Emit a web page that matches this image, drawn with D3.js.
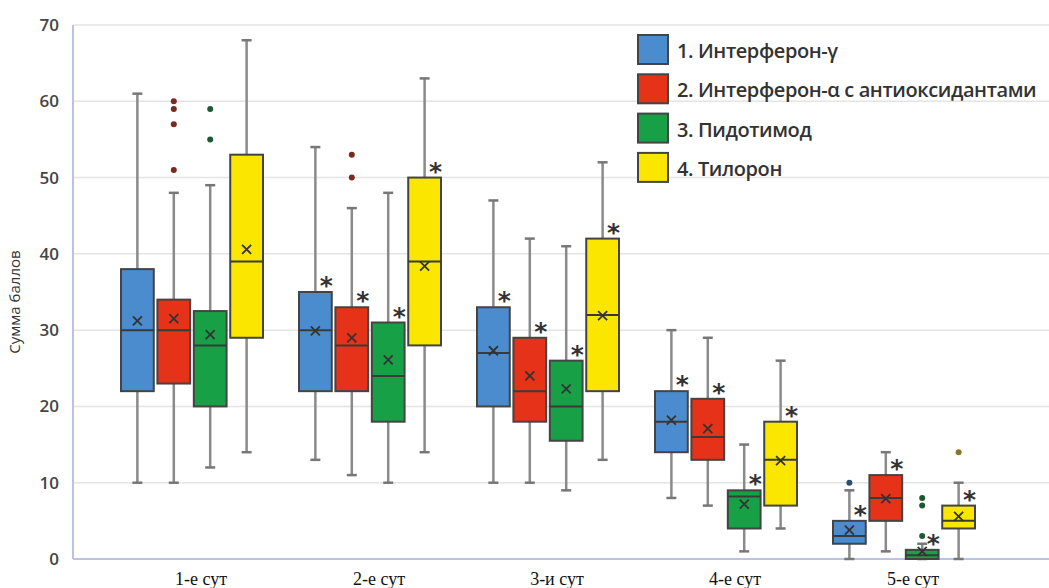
<!DOCTYPE html>
<html>
<head>
<meta charset="utf-8">
<script src="https://cdn.jsdelivr.net/npm/d3@7"></script>
<style>
body{margin:0;background:#fff;}
svg{display:block;}
</style>
</head>
<body>
<div id="chart"></div>
<script>
// data
const days = ["1-е сут", "2-е сут", "3-и сут", "4-е сут", "5-е сут"];
const seriesNames = ["1. Интерферон-γ", "2. Интерферон-α с антиоксидантами", "3. Пидотимод", "4. Тилорон"];
const colors = ["#4b8ccf", "#e63218", "#18a047", "#fbe600"];
const dotColors = ["#2b4f72", "#7b2a22", "#1d5a33", "#86762a"];
const yTicks = [0, 10, 20, 30, 40, 50, 60, 70];

const whiskerMin = [[10,13,10,8,0],[10,11,10,7,1],[12,10,9,1,0],[14,14,13,4,0]];
const q1 =         [[22,22,20,14,2],[23,22,18,13,5],[20,18,15.5,4,0],[29,28,22,7,4]];
const median =     [[30,30,27,18,3],[30,28,22,16,8],[28,24,20,8.2,0.5],[39,39,32,13,5]];
const q3 =         [[38,35,33,22,5],[34,33,29,21,11],[32.5,31,26,9,1.2],[53,50,42,18,7]];
const whiskerMax = [[61,54,47,30,9],[48,46,42,29,14],[49,48,41,15,2],[68,63,52,26,10]];
const means =      [[31.2,29.9,27.3,18.2,3.8],[31.5,29,24,17.1,7.9],[29.4,26.1,22.3,7.2,1],[40.6,38.4,31.9,12.9,5.6]];
const outliers = [
  [[],[],[],[],[10]],
  [[60,59,57,51],[53,50],[],[],[]],
  [[59,55],[],[],[],[8,7,3]],
  [[],[],[],[],[14]]
];
const significant = [[0,1,1,1,1],[0,1,1,1,1],[0,1,1,1,1],[0,1,1,1,1]];

const W = 1049, H = 588;
const plotLeft = 73, plotBottom = 559, plotTop = 25;

const svg = d3.select('#chart').append('svg')
  .attr('width', W).attr('height', H);

const y = d3.scaleLinear().domain([0, 70]).range([plotBottom, plotTop]);
const x = d3.scaleBand().domain(days).range([103, 993]).paddingInner(0).paddingOuter(0);
const xs = d3.scaleBand().domain(d3.range(4)).range([18, x.bandwidth() - 18]).paddingInner(0.1);

// grid
svg.append('g').selectAll('line')
  .data(yTicks.filter(d => d > 0))
  .enter().append('line')
  .attr('x1', plotLeft).attr('x2', W)
  .attr('y1', d => y(d)).attr('y2', d => y(d))
  .attr('stroke', '#e4e4e4').attr('stroke-width', 1.5);

// axes lines
svg.append('line').attr('x1', plotLeft).attr('x2', plotLeft).attr('y1', y(70)).attr('y2', plotBottom)
  .attr('stroke', '#b9c4e4').attr('stroke-width', 2);
svg.append('line').attr('x1', plotLeft).attr('x2', W).attr('y1', plotBottom).attr('y2', plotBottom)
  .attr('stroke', '#b9c4e4').attr('stroke-width', 2);

// y labels
const yAxis = d3.axisLeft(y).tickValues(yTicks).tickSize(0).tickPadding(14);
const ya = svg.append('g').attr('transform', `translate(${plotLeft},0)`).call(yAxis);
ya.select('.domain').remove();
ya.selectAll('text')
  .attr('font-family', 'Open Sans, sans-serif').attr('font-size', 17).attr('font-weight', 600)
  .attr('fill', '#444');

svg.append('text')
  .attr('transform', `translate(20,${(plotTop + plotBottom) / 2 + 10}) rotate(-90)`)
  .attr('text-anchor', 'middle')
  .attr('font-family', 'Open Sans, sans-serif').attr('font-size', 15)
  .attr('fill', '#333')
  .text('Сумма баллов');

// x labels
svg.append('g').selectAll('text')
  .data(days).enter().append('text')
  .attr('x', d => x(d) + x.bandwidth() / 2 + 9)
  .attr('y', 585)
  .attr('text-anchor', 'middle')
  .attr('font-family', 'Liberation Serif, serif').attr('font-size', 18)
  .attr('fill', '#111')
  .text(d => d);

// boxes
seriesNames.forEach((name, s) => {
  const g = svg.append('g');
  const bw = xs.bandwidth();
  const cx = i => x(days[i]) + xs(s) + bw / 2;
  const idx = d3.range(days.length);

  // whiskers
  g.selectAll(null).data(idx).enter().append('line')
    .attr('x1', i => cx(i)).attr('x2', i => cx(i))
    .attr('y1', i => y(whiskerMin[s][i])).attr('y2', i => y(whiskerMax[s][i]))
    .attr('stroke', '#8a8a8a').attr('stroke-width', 2.5);
  [whiskerMin, whiskerMax].forEach(arr => {
    g.selectAll(null).data(idx).enter().append('line')
      .attr('x1', i => cx(i) - 5).attr('x2', i => cx(i) + 5)
      .attr('y1', i => y(arr[s][i])).attr('y2', i => y(arr[s][i]))
      .attr('stroke', '#777').attr('stroke-width', 2.5);
  });

  // box
  g.selectAll(null).data(idx).enter().append('rect')
    .attr('x', i => x(days[i]) + xs(s))
    .attr('width', bw)
    .attr('y', i => y(q3[s][i]))
    .attr('height', i => y(q1[s][i]) - y(q3[s][i]))
    .attr('fill', colors[s])
    .attr('stroke', '#444').attr('stroke-width', 2);

  // median
  g.selectAll(null).data(idx).enter().append('line')
    .attr('x1', i => x(days[i]) + xs(s)).attr('x2', i => x(days[i]) + xs(s) + bw)
    .attr('y1', i => y(median[s][i])).attr('y2', i => y(median[s][i]))
    .attr('stroke', '#3a3a3a').attr('stroke-width', 2);

  // mean x
  idx.forEach(i => {
    const mx = cx(i), my = y(means[s][i]), r = 4.5;
    g.append('path')
      .attr('d', `M${mx - r},${my - r}L${mx + r},${my + r}M${mx - r},${my + r}L${mx + r},${my - r}`)
      .attr('stroke', '#333').attr('stroke-width', 1.8);
  });

  // outliers
  idx.forEach(i => {
    g.selectAll(null).data(outliers[s][i]).enter().append('circle')
      .attr('cx', cx(i)).attr('cy', d => y(d)).attr('r', 3)
      .attr('fill', dotColors[s]);
  });

  // significance asterisks
  g.selectAll(null).data(idx.filter(i => significant[s][i])).enter().append('text')
    .attr('x', i => cx(i) + 11)
    .attr('y', i => y(q3[s][i]) + 2)
    .attr('text-anchor', 'middle')
    .attr('font-family', 'DejaVu Sans, sans-serif').attr('font-size', 25).attr('font-weight', 700)
    .attr('fill', '#333')
    .text('*');
});

// legend
const leg = svg.append('g').attr('transform', 'translate(638,35)');
const li = leg.selectAll('g').data(seriesNames).enter().append('g')
  .attr('transform', (d, i) => `translate(0,${i * 39.3})`);
li.append('rect').attr('width', 30).attr('height', 29)
  .attr('fill', (d, i) => colors[i]).attr('stroke', '#444').attr('stroke-width', 2);
li.append('text').attr('x', 39).attr('y', 23)
  .attr('font-family', 'Open Sans, sans-serif').attr('font-size', 20).attr('font-weight', 600)
  .attr('letter-spacing', -0.4)
  .attr('fill', '#333')
  .text(d => d);
</script>
</body>
</html>
